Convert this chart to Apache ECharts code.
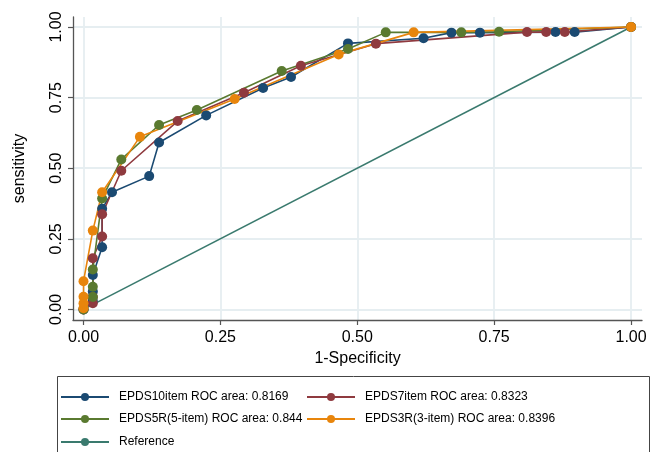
<!DOCTYPE html>
<html>
<head>
<meta charset="utf-8">
<script src="https://cdn.jsdelivr.net/npm/echarts@6/dist/echarts.min.js"></script>
<style>
html,body{margin:0;padding:0;background:#fff;}
#chart{width:662px;height:452px;}
</style>
</head>
<body>
<div id="chart"></div>
<script>
// ---- data (1-specificity, sensitivity) ----
const tickValues = [0, 0.25, 0.5, 0.75, 1];

const epds10Name = 'EPDS10item ROC area: 0.8169';
const epds10X = [0, 0.017, 0.017, 0.017, 0.034, 0.034, 0.052, 0.120, 0.138, 0.224, 0.328, 0.379, 0.483, 0.621, 0.672, 0.724, 0.862, 0.897, 1];
const epds10Y = [0, 0.030, 0.063, 0.122, 0.220, 0.356, 0.415, 0.472, 0.591, 0.687, 0.784, 0.823, 0.942, 0.960, 0.980, 0.980, 0.982, 0.982, 1];

const epds7Name = 'EPDS7item ROC area: 0.8323';
const epds7X = [0, 0.017, 0.017, 0.017, 0.034, 0.034, 0.069, 0.172, 0.293, 0.397, 0.534, 0.810, 0.845, 0.879, 1];
const epds7Y = [0, 0.022, 0.044, 0.181, 0.258, 0.337, 0.491, 0.667, 0.767, 0.863, 0.941, 0.982, 0.982, 0.982, 1];

const epds5Name = 'EPDS5R(5-item) ROC area: 0.844';
const epds5X = [0, 0.017, 0.017, 0.017, 0.034, 0.069, 0.138, 0.207, 0.362, 0.483, 0.552, 0.690, 0.759, 1];
const epds5Y = [0, 0.044, 0.080, 0.141, 0.393, 0.531, 0.653, 0.706, 0.844, 0.922, 0.981, 0.981, 0.983, 1];

const epds3Name = 'EPDS3R(3-item) ROC area: 0.8396';
const epds3X = [0, 0, 0, 0, 0.017, 0.034, 0.103, 0.276, 0.466, 0.603, 1];
const epds3Y = [0.004, 0.022, 0.045, 0.100, 0.279, 0.415, 0.611, 0.745, 0.903, 0.981, 1];

const refName = 'Reference';
const refX = [0, 1];
const refY = [0, 1];

const colors = ['#1b4a72', '#8f3a3f', '#5a7a30', '#e8850c', '#3a7a6e'];
const FONT = '"Liberation Sans", Arial, Helvetica, sans-serif';

function pts(xs, ys){ return xs.map((v,i)=>[v, ys[i]]); }

const chart = echarts.init(document.getElementById('chart'), null, {renderer:'canvas'});

function lineSeries(name, xs, ys, color, sym){
  return {
    name: name, type: 'line', data: pts(xs, ys),
    symbol: sym ? 'circle' : 'none', symbolSize: 10, showSymbol: !!sym,
    itemStyle: {color: color},
    lineStyle: {color: color, width: 1.6},
    emphasis: {disabled: true},
    animation: false
  };
}

function legendAt(name, left, top){
  return {
    data: [name], left: left, top: top, padding: 0,
    itemWidth: 48, itemHeight: 10, selectedMode: false,
    textStyle: {fontFamily: FONT, fontSize: 12, color: '#000', padding: [0,0,0,5]}
  };
}

const axisCommon = {
  type: 'value',
  axisLine: {show: true, onZero: false, lineStyle: {color: '#555', width: 1.3}},
  axisTick: {show: true, customValues: tickValues, length: 5, lineStyle: {color: '#555', width: 1.2}},
  splitLine: {show: true, lineStyle: {color: '#e6eef1', width: 1.8}},
  nameLocation: 'middle',
  nameTextStyle: {fontFamily: FONT, fontSize: 16, color: '#000'}
};

const option = {
  backgroundColor: '#fff',
  animation: false,
  grid: {left: 73, right: 20, top: 17, bottom: 132, containLabel: false},
  xAxis: Object.assign({}, axisCommon, {
    min: -0.0192, max: 1.020,
    name: '1-Specificity', nameGap: 29,
    axisLabel: {customValues: tickValues, formatter: v => v.toFixed(2), fontFamily: FONT, fontSize: 16, color: '#000', margin: 10}
  }),
  yAxis: Object.assign({}, axisCommon, {
    min: -0.0375, max: 1.0354,
    name: 'sensitivity', nameGap: 45, nameRotate: 90,
    axisLabel: {customValues: tickValues, formatter: v => v.toFixed(2), fontFamily: FONT, fontSize: 16, color: '#000', margin: 8, rotate: 90}
  }),
  legend: [
    legendAt(epds10Name, 60, 391),
    legendAt(epds7Name, 306, 391),
    legendAt(epds5Name, 60, 413),
    legendAt(epds3Name, 306, 413),
    legendAt(refName, 60, 436)
  ],
  graphic: [{
    type: 'rect', shape: {x: 57.5, y: 376.5, width: 592, height: 80},
    style: {fill: 'none', stroke: '#444', lineWidth: 1}, silent: true
  }],
  series: [
    lineSeries(epds10Name, epds10X, epds10Y, colors[0], true),
    lineSeries(epds7Name, epds7X, epds7Y, colors[1], true),
    lineSeries(epds5Name, epds5X, epds5Y, colors[2], true),
    lineSeries(epds3Name, epds3X, epds3Y, colors[3], true),
    lineSeries(refName, refX, refY, colors[4], false)
  ]
};
chart.setOption(option);
</script>
</body>
</html>
